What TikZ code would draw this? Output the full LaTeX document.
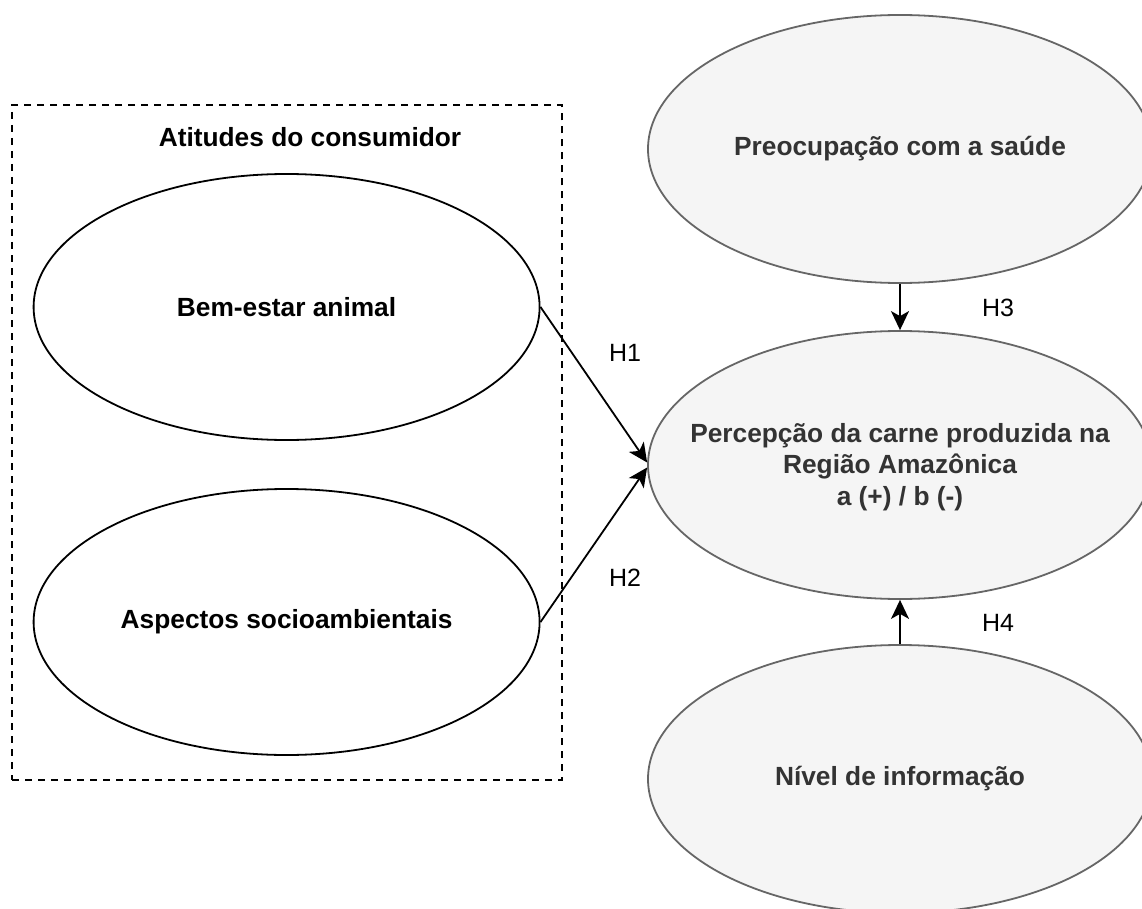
\documentclass[tikz,border=0pt]{standalone}
\usepackage{fontspec}
\setmainfont{Liberation Sans}
\usetikzlibrary{shapes.geometric,arrows.meta}
\definecolor{grayfill}{HTML}{F5F5F5}
\definecolor{graystroke}{HTML}{666666}
\definecolor{graytext}{HTML}{333333}
\begin{document}
\begin{tikzpicture}[x=1pt,y=-1pt,
  whiteell/.style={ellipse, draw=black, line width=1.8pt, fill=white,
    minimum width=506pt, minimum height=266pt, inner sep=0pt},
  grayell/.style={ellipse, draw=graystroke, line width=1.8pt, fill=grayfill,
    minimum width=504pt, minimum height=268pt, inner sep=0pt},
  lbl/.style={font=\fontsize{26.3}{31.5}\selectfont\bfseries, align=center, inner sep=0pt},
  graylbl/.style={lbl, text=graytext},
  hyp/.style={font=\fontsize{25}{30}\selectfont, inner sep=0pt},
  arr/.style={line width=1.8pt, -{Stealth[length=19pt,width=18pt,inset=5pt]}},
  groupbox/.style={draw, line width=2pt, dash pattern=on 7pt off 6pt, inner sep=0pt,
    minimum width=549.5pt, minimum height=675pt, anchor=north west}]
\useasboundingbox (0,0) rectangle (1142,909);
% group box
\node[groupbox] (box) at (11,104) {};
\node[lbl] (boxT) at (310,137) {Atitudes do consumidor};
% left ellipses
\node[whiteell] (bem) at (286.6,307) {};
\node[lbl] (bemT) at (bem.center) {Bem-estar animal};
\node[whiteell] (asp) at (286.6,622) {};
\node[lbl] (aspT) at (asp.center) {Aspectos socioambientais};
% right ellipses
\node[grayell] (pre) at (900,149) {};
\node[graylbl] (preT) at (pre.center) {Preocupação com a saúde};
\node[grayell] (perc) at (900,465) {};
\node[graylbl] (percT) at ([yshift=-2pt]perc.center) {Percepção da carne produzida na\\Região Amazônica\\a (+) / b (-)};
\node[grayell] (niv) at (900,779) {};
\node[graylbl] (nivT) at (niv.center) {Nível de informação};
% connectors
\coordinate (p1) at ([yshift=2.5pt]perc.west);
\coordinate (p2) at ([yshift=-2.5pt]perc.west);
\draw[arr] (bem.east) -- (p1);
\draw[arr] (asp.east) -- (p2);
\draw[arr] (pre.south) -- (perc.north);
\draw[arr] (niv.north) -- (perc.south);
% hypothesis labels
\node[hyp] (h1) at (625,353) {H1};
\node[hyp] (h2) at (625,578) {H2};
\node[hyp] (h3) at (998,308) {H3};
\node[hyp] (h4) at (998,623) {H4};
\end{tikzpicture}
\end{document}
